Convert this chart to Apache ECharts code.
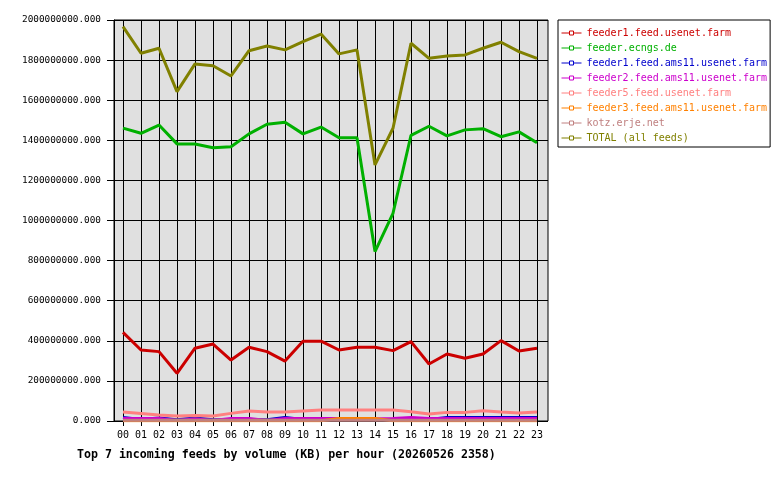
<!DOCTYPE html>
<html>
<head>
<meta charset="utf-8">
<script src="https://cdn.jsdelivr.net/npm/echarts@6/dist/echarts.min.js"></script>
<style>
  html, body { margin: 0; padding: 0; background: #fff; }
  #chart { width: 780px; height: 480px; }
</style>
</head>
<body>
<div id="chart"></div>
<script>
// hours on the x axis
var hours = ['00','01','02','03','04','05','06','07','08','09','10','11',
             '12','13','14','15','16','17','18','19','20','21','22','23'];

// values in millions of KB
var feeder1Usenet = [442,354,346,238,363,384,304,368,346,299,398,398,354,368,368,351,396,284,334,313,334,401,349,363];
var ecngs = [1461,1435,1476,1382,1382,1363,1368,1432,1480,1490,1432,1466,1413,1413,845,1036,1425,1470,1422,1452,1458,1418,1442,1388];
var feeder1Ams11 = [18,8,15,6,15,6,8,8,6,18,8,8,8,8,8,8,8,8,17,17,17,17,17,17];
var feeder2Ams11 = [12,12,12,3,10,3,12,12,3,12,12,12,12,10,10,12,18,12,12,12,12,12,12,12];
var feeder5Usenet = [45,38,30,25,28,25,38,50,45,45,50,55,55,55,55,55,46,35,43,43,51,45,40,45];
var feeder3Ams11 = [1,1,1,1,1,1,1,1,1,1,1,1,12,13,13,1,1,1,1,1,1,1,1,1];
var kotz = [4,4,4,5,4,5,4,4,5,4,4,4,4,4,4,4,4,4,4,4,4,4,4,4];
var total = [1967,1834,1859,1643,1781,1772,1721,1847,1870,1851,1892,1930,1831,1851,1277,1460,1884,1809,1821,1826,1859,1889,1842,1809];

var names = ['feeder1.feed.usenet.farm','feeder.ecngs.de','feeder1.feed.ams11.usenet.farm',
             'feeder2.feed.ams11.usenet.farm','feeder5.feed.usenet.farm','feeder3.feed.ams11.usenet.farm',
             'kotz.erje.net','TOTAL (all feeds)'];
var colors = ['#cc0000','#00b000','#0000cc','#cc00cc','#ff8080','#ff8000','#c08080','#808000'];
var values = [feeder1Usenet, ecngs, feeder1Ams11, feeder2Ams11, feeder5Usenet, feeder3Ams11, kotz, total];

var mono = 'DejaVu Sans Mono';
var chart = echarts.init(document.getElementById('chart'));

var series = [];
for (var i = 0; i < names.length; i++) {
  series.push({
    name: names[i],
    type: 'line',
    xAxisIndex: 1,
    yAxisIndex: 1,
    data: values[i],
    symbol: 'rect',
    showSymbol: false,
    color: colors[i],
    lineStyle: { width: 3, color: colors[i] },
    animation: false
  });
}

// legend entries: thin line with a small hollow box, text in series colour
var legendData = names.map(function (n, i) {
  return {
    name: n,
    textStyle: { color: colors[i] },
    itemStyle: { color: '#fff', borderColor: colors[i], borderWidth: 1 },
    lineStyle: { color: colors[i], width: 1 }
  };
});

var option = {
  backgroundColor: '#fff',
  animation: false,
  title: {
    text: 'Top 7 incoming feeds by volume (KB) per hour (20260526 2358)',
    left: 72,
    top: 444,
    textStyle: { fontFamily: mono, fontSize: 11.6, fontWeight: 'bold', color: '#000' }
  },
  legend: {
    orient: 'vertical',
    left: 558,
    top: 20,
    padding: [7, 3, 3, 3],
    borderColor: '#000',
    borderWidth: 1,
    itemWidth: 20,
    itemHeight: 5,
    itemGap: 3,
    selectedMode: false,
    textStyle: { fontFamily: mono, fontSize: 10, lineHeight: 12 },
    data: legendData
  },
  grid: [
    { left: 114, right: 232, top: 20, bottom: 59, show: true,
      backgroundColor: '#e0e0e0', borderColor: '#000', borderWidth: 1 },
    { left: 123, right: 243, top: 20, bottom: 59 }
  ],
  xAxis: [
    { gridIndex: 0, type: 'value', min: 0, max: 1, show: false },
    {
      gridIndex: 1,
      type: 'category',
      data: hours,
      boundaryGap: false,
      axisLine: { show: false },
      axisTick: { show: true, interval: 0, length: 5, lineStyle: { color: '#000' } },
      splitLine: { show: true, interval: 0, lineStyle: { color: '#000', width: 1 } },
      axisLabel: { interval: 0, margin: 9, fontFamily: mono, fontSize: 10, color: '#000' }
    }
  ],
  yAxis: [
    {
      gridIndex: 0,
      type: 'value',
      min: 0,
      max: 2000,
      interval: 200,
      axisLine: { show: true, lineStyle: { color: '#000' } },
      axisTick: { show: true, length: 7, lineStyle: { color: '#000' } },
      splitLine: { show: true, lineStyle: { color: '#000', width: 1 } },
      axisLabel: {
        margin: 13,
        fontFamily: mono,
        fontSize: 9.4,
        color: '#000',
        formatter: function (v) { return (v * 1e6).toFixed(3); }
      }
    },
    { gridIndex: 1, type: 'value', min: 0, max: 2000, show: false }
  ],
  series: series
};

chart.setOption(option);
</script>
</body>
</html>
